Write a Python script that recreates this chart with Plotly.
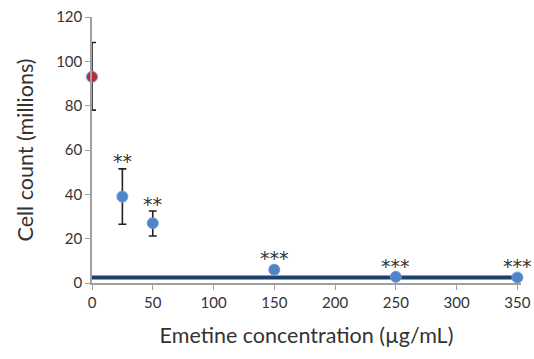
import plotly.graph_objects as go

conc = [0, 25, 50, 150, 250, 350]
cell_count = [93, 39, 27, 6, 2.8, 2.5]
err_plus = [15.5, 12.5, 5.5, 1.5, 0.5, 0.5]
err_minus = [15, 12.5, 5.8, 1.5, 0.5, 0.5]
marker_colors = ["#b3303c", "#4a86c8", "#4a86c8", "#4a86c8", "#4a86c8", "#4a86c8"]
sig_labels = ["", "**", "**", "***", "***", "***"]
sig_y = [None, 55, 35.5, 11.5, 7.5, 7.5]
baseline_x = [0, 357]
baseline_y = [2.5, 2.5]

fig = go.Figure()
fig.add_trace(go.Scatter(
    x=baseline_x, y=baseline_y, mode="lines",
    line=dict(color="#1f3f6e", width=4), cliponaxis=False, hoverinfo="skip"))
fig.add_trace(go.Scatter(
    x=conc, y=cell_count, mode="markers",
    marker=dict(size=11, color=marker_colors, line=dict(color="#7f8fd0", width=1)),
    error_y=dict(type="data", array=err_plus, arrayminus=err_minus,
                 color="#222222", thickness=1.6, width=4),
    cliponaxis=False))
for xv, lab, yv in zip(conc, sig_labels, sig_y):
    if lab:
        fig.add_annotation(x=xv, y=yv, text=lab, showarrow=False,
                           font=dict(size=19, color="#333333", family="DejaVu Sans"))

fig.update_layout(
    width=534, height=359,
    margin=dict(l=92, r=13, t=17, b=76),
    plot_bgcolor="white", paper_bgcolor="white",
    showlegend=False,
    font=dict(family="Lato", color="#333333"),
    xaxis=dict(range=[0, 353], tickvals=[0, 50, 100, 150, 200, 250, 300, 350],
               automargin=False,
               showgrid=False, zeroline=False, showline=True, linecolor="#a0a0a0",
               linewidth=1.5, ticks="outside", tickcolor="#a0a0a0", ticklen=5,
               tickfont=dict(size=15, color="#333333"),
               title=dict(text="Emetine concentration (µg/mL)", font=dict(size=21.5, color="#333333"),
                          standoff=18)),
    yaxis=dict(range=[0, 120], tickvals=[0, 20, 40, 60, 80, 100, 120],
               automargin=False,
               showgrid=False, zeroline=False, showline=True, linecolor="#a0a0a0",
               linewidth=1.5, ticks="outside", tickcolor="#a0a0a0", ticklen=5,
               tickfont=dict(size=15, color="#333333"),
               title=dict(text="Cell count (millions)", font=dict(size=21.5, color="#333333"),
                          standoff=17)),
)
fig.write_html("out.html", config={"displayModeBar": False},
               post_script="document.body.style.margin='0';")
